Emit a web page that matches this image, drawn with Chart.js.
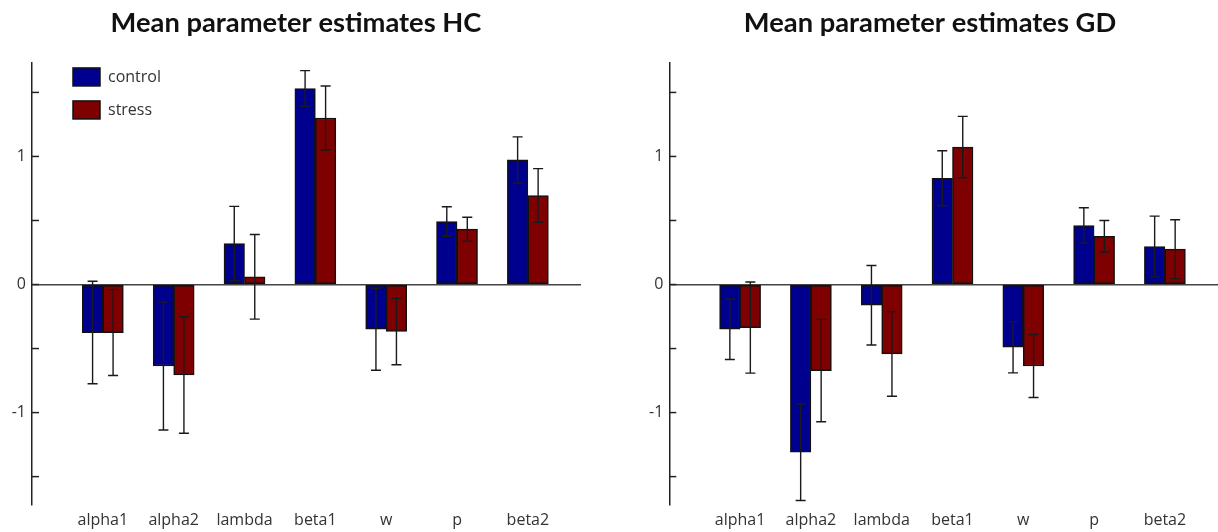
<!DOCTYPE html>
<html>
<head>
<meta charset="utf-8">
<script src="https://cdn.jsdelivr.net/npm/chart.js@4/dist/chart.umd.min.js"></script>
<style>
  body { margin: 0; background: #fff; width: 1218px; height: 532px; overflow: hidden; position: relative; }
  .box { position: absolute; top: 0; height: 540px; }
  #hcBox { left: 0; width: 592px; }
  #gdBox { left: 640px; width: 578px; }
</style>
</head>
<body>
<div class="box" id="hcBox"><canvas id="hcChart"></canvas></div>
<div class="box" id="gdBox"><canvas id="gdChart"></canvas></div>

<script>
// 1. Data
const categories = ["alpha1", "alpha2", "lambda", "beta1", "w", "p", "beta2"];
const seriesNames = ["control", "stress"];

const hcControl    = [-0.375, -0.636, 0.32, 1.53, -0.349, 0.492, 0.973];
const hcControlErr = [0.40, 0.50, 0.29, 0.14, 0.32, 0.115, 0.18];
const hcStress     = [-0.375, -0.706, 0.06, 1.30, -0.367, 0.432, 0.695];
const hcStressErr  = [0.335, 0.455, 0.33, 0.25, 0.26, 0.093, 0.21];

const gdControl    = [-0.349, -1.31, -0.162, 0.83, -0.49, 0.461, 0.297];
const gdControlErr = [0.236, 0.377, 0.31, 0.215, 0.2, 0.138, 0.237];
const gdStress     = [-0.336, -0.672, -0.542, 1.073, -0.636, 0.377, 0.276];
const gdStressErr  = [0.356, 0.40, 0.33, 0.24, 0.246, 0.123, 0.23];

const yLabelTicks = [-1, 0, 1];
const yMinorTicks = [-1.5, -1, -0.5, 0, 0.5, 1, 1.5];

const colors = ["#00008f", "#7f0000"];
const textColor = "#333";

// 2. Error bars + inward tick marks + legend inside the plot
const extras = {
  id: "extras",
  afterDatasetsDraw(chart) {
    const ctx = chart.ctx;
    const y = chart.scales.y;
    ctx.save();
    ctx.strokeStyle = "#1a1a1a";
    ctx.lineWidth = 1.4;
    chart.data.datasets.forEach((ds, i) => {
      const meta = chart.getDatasetMeta(i);
      meta.data.forEach((bar, j) => {
        const v = ds.data[j].y;
        const e = ds.errors[j];
        const top = y.getPixelForValue(v + e);
        const bot = y.getPixelForValue(v - e);
        ctx.beginPath();
        ctx.moveTo(bar.x, top); ctx.lineTo(bar.x, bot);
        ctx.moveTo(bar.x - 5, top); ctx.lineTo(bar.x + 5, top);
        ctx.moveTo(bar.x - 5, bot); ctx.lineTo(bar.x + 5, bot);
        ctx.stroke();
      });
    });

    // small ticks pointing into the plot
    const left = chart.chartArea.left;
    ctx.strokeStyle = "#222";
    ctx.lineWidth = 1.5;
    yMinorTicks.forEach(t => {
      const py = y.getPixelForValue(t);
      ctx.beginPath();
      ctx.moveTo(left, py); ctx.lineTo(left + 7, py);
      ctx.stroke();
    });

    // legend
    if (chart.options.plugins.extras.legend) {
      const x0 = left + 41, y0 = chart.chartArea.top + 5;
      chart.data.datasets.forEach((ds, i) => {
        const yy = y0 + i * 33;
        ctx.fillStyle = ds.backgroundColor;
        ctx.fillRect(x0, yy, 27, 18);
        ctx.strokeStyle = "#111";
        ctx.lineWidth = 1.5;
        ctx.strokeRect(x0, yy, 27, 18);
        ctx.fillStyle = textColor;
        ctx.font = "16px 'Open Sans'";
        ctx.textBaseline = "middle";
        ctx.fillText(ds.label, x0 + 35, yy + 9);
      });
    }
    ctx.restore();
  }
};

function makeChart(id, title, control, controlErr, stress, stressErr, opts) {
  const series = [[control, controlErr], [stress, stressErr]];
  return new Chart(document.getElementById(id), {
    type: "bar",
    data: {
      datasets: series.map((s, i) => ({
        label: seriesNames[i],
        data: s[0].map((v, j) => ({ x: j + 1, y: v })),
        errors: s[1],
        backgroundColor: colors[i],
        borderColor: "#111",
        borderWidth: 1.5,
        borderSkipped: false,
        barThickness: 20.5
      }))
    },
    options: {
      responsive: true,
      maintainAspectRatio: false,
      animation: false,
      layout: { padding: { left: opts.padLeft, right: opts.padRight, top: 0, bottom: 4 } },
      plugins: {
        legend: { display: false },
        tooltip: { enabled: false },
        title: {
          display: true,
          text: title,
          color: "#111",
          font: { family: "Lato", size: 27.3, weight: "bold", lineHeight: 1.2 },
          padding: { top: 7, bottom: 23.2 }
        },
        extras: { legend: opts.legend }
      },
      scales: {
        x: {
          type: "linear",
          min: 0,
          max: 7.75,
          offset: false,
          afterBuildTicks: scale => { scale.ticks = categories.map((c, i) => ({ value: i + 1 })); },
          ticks: {
            autoSkip: false,
            maxRotation: 0,
            padding: 6,
            color: textColor,
            font: { family: "Open Sans", size: 16 },
            callback: v => categories[v - 1]
          },
          grid: { display: false, drawTicks: false, offset: false },
          border: { display: false }
        },
        y: {
          min: -1.72,
          max: 1.73,
          afterFit: scale => { scale.width = opts.axisWidth; },
          afterBuildTicks: scale => { scale.ticks = yLabelTicks.map(v => ({ value: v })); },
          ticks: {
            padding: 6,
            color: textColor,
            font: { family: "Open Sans", size: 16 },
            callback: v => String(v)
          },
          grid: {
            drawTicks: false,
            lineWidth: 1.5,
            color: c => (c.tick && c.tick.value === 0) ? "#444" : "transparent"
          },
          border: { display: true, color: "#222", width: 1.5 }
        }
      }
    },
    plugins: [extras]
  });
}

makeChart("hcChart", "Mean parameter estimates HC", hcControl, hcControlErr, hcStress, hcStressErr,
  { padLeft: 11, padRight: 11, axisWidth: 21, legend: true });
makeChart("gdChart", "Mean parameter estimates GD", gdControl, gdControlErr, gdStress, gdStressErr,
  { padLeft: 2, padRight: 0, axisWidth: 27.3, legend: false });
</script>
</body>
</html>
